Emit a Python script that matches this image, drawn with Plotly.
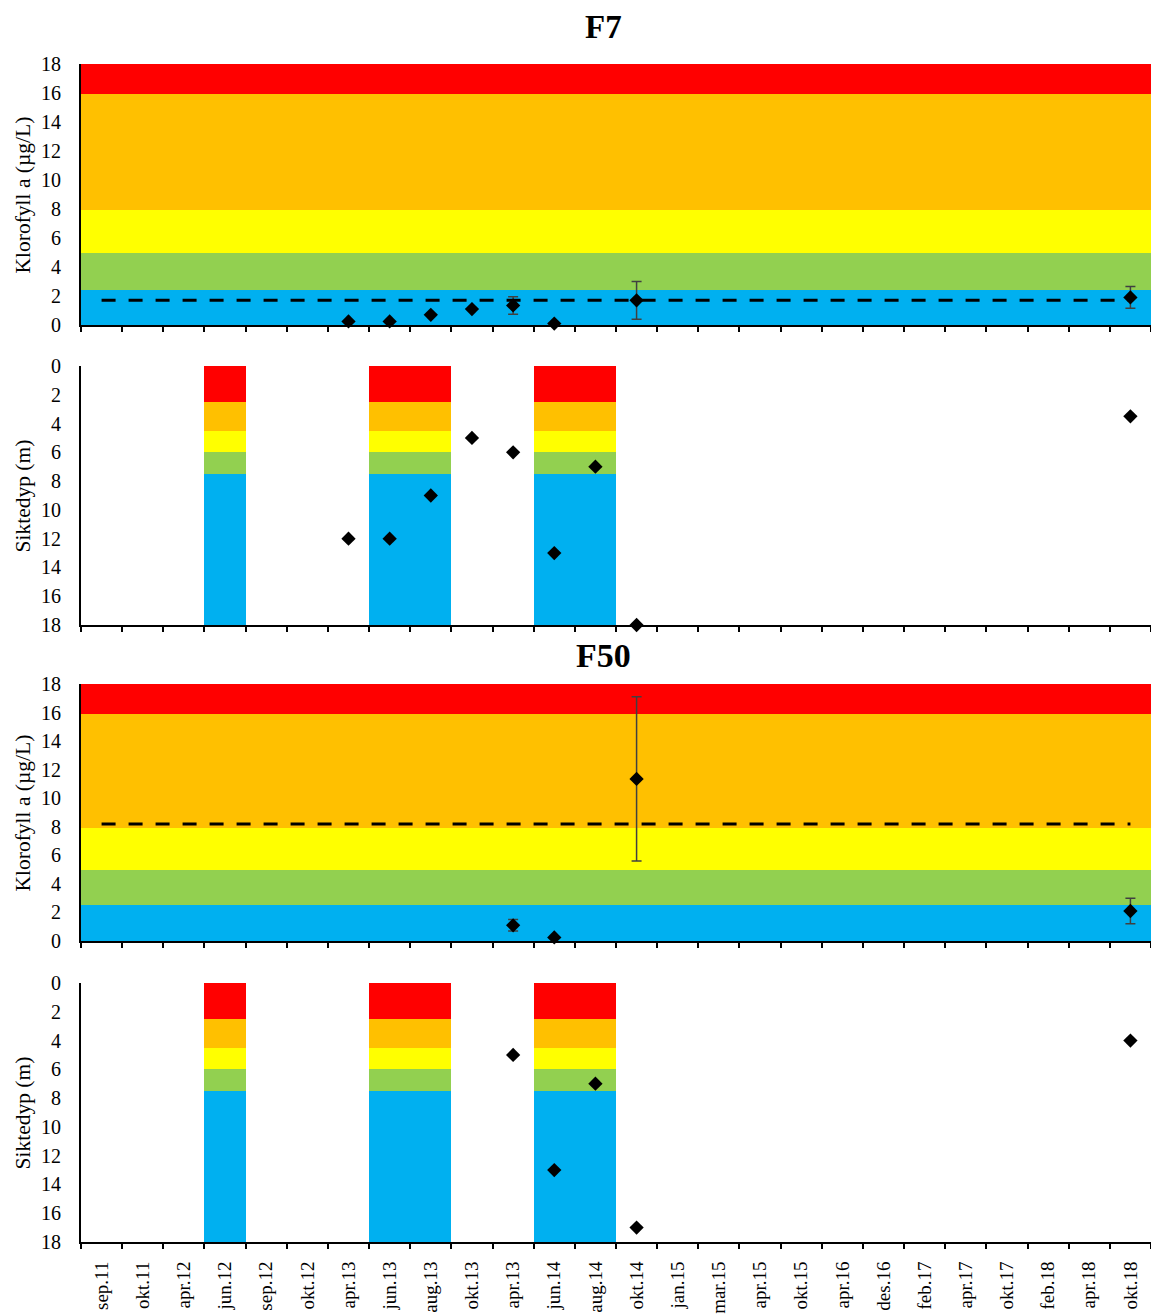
import plotly.graph_objects as go
from plotly.subplots import make_subplots

# ---------------- data ----------------
categories = ["sep.11", "okt.11", "apr.12", "jun.12", "sep.12", "okt.12", "apr.13", "jun.13",
              "aug.13", "okt.13", "apr.13", "jun.14", "aug.14", "okt.14", "jan.15", "mar.15",
              "apr.15", "okt.15", "apr.16", "des.16", "feb.17", "apr.17", "okt.17", "feb.18",
              "apr.18", "okt.18"]
N = len(categories)

def full(d):
    return [d.get(i) for i in range(N)]

# F7 chlorophyll (µg/L), index -> value
f7_chl = full({6: 0.25, 7: 0.25, 8: 0.7, 9: 1.1, 10: 1.35, 11: 0.1, 13: 1.7, 25: 1.9})
f7_chl_err = full({10: 0.6, 13: 1.3, 25: 0.75})
f7_chl_ref = 1.7
f7_sikt = full({6: 12, 7: 12, 8: 9, 9: 5, 10: 6, 11: 13, 12: 7, 13: 18, 25: 3.5})

# F50
f50_chl = full({10: 1.1, 11: 0.25, 13: 11.35, 25: 2.1})
f50_chl_err = full({10: 0.4, 13: 5.75, 25: 0.9})
f50_chl_ref = 8.2
f50_sikt = full({10: 5, 11: 13, 12: 7, 13: 17, 25: 4})

# class limits (upper bounds, cumulative): blue, green, yellow, orange, red
f7_chl_limits = [2.4, 5.0, 7.9, 15.9, 18.0]
f50_chl_limits = [2.55, 4.95, 7.9, 15.9, 18.0]
class_colors = ["#00B0F0", "#92D050", "#FFFF00", "#FFC000", "#FF0000"]
# Secchi depth limits (m), from surface: red, orange, yellow, green, blue
sikt_limits = [2.5, 4.5, 6.0, 7.5, 18.0]
sikt_colors = ["#FF0000", "#FFC000", "#FFFF00", "#92D050", "#00B0F0"]
sikt_bar_idx = [3, 7, 8, 11, 12]

keys = [f"{i}_{c}" for i, c in enumerate(categories)]

FONT = "Liberation Serif"

fig = make_subplots(rows=4, cols=1, shared_xaxes=True)


def add_chl(row, limits, vals, errs, ref):
    prev = 0
    for lim, col in zip(limits, class_colors):
        fig.add_trace(go.Bar(x=keys, y=[lim - prev] * N, marker=dict(color=col, line=dict(width=0)),
                             showlegend=False, hoverinfo="skip"), row=row, col=1)
        prev = lim
    fig.add_trace(go.Scatter(x=keys, y=[ref] * N, mode="lines",
                             line=dict(color="black", width=3, dash="14px,13px"),
                             showlegend=False), row=row, col=1)
    fig.add_trace(go.Scatter(x=keys, y=vals, mode="markers",
                             marker=dict(symbol="diamond", size=11, color="black"),
                             error_y=dict(type="data", array=errs, color="#404040", thickness=1.5, width=5),
                             cliponaxis=False, showlegend=False), row=row, col=1)


def add_sikt(row, vals):
    prev = 0
    for lim, col in zip(sikt_limits, sikt_colors):
        ys = [(lim - prev) if i in sikt_bar_idx else None for i in range(N)]
        fig.add_trace(go.Bar(x=keys, y=ys, marker=dict(color=col, line=dict(width=0)),
                             showlegend=False, hoverinfo="skip"), row=row, col=1)
        prev = lim
    fig.add_trace(go.Scatter(x=keys, y=vals, mode="markers",
                             marker=dict(symbol="diamond", size=11, color="black"),
                             cliponaxis=False, showlegend=False), row=row, col=1)


add_chl(1, f7_chl_limits, f7_chl, f7_chl_err, f7_chl_ref)
add_sikt(2, f7_sikt)
add_chl(3, f50_chl_limits, f50_chl, f50_chl_err, f50_chl_ref)
add_sikt(4, f50_sikt)

H = 1242.0
def dom(top, bot):
    return [(H - bot) / H, (H - top) / H]

domains = [dom(64, 325), dom(366, 625), dom(684, 941), dom(983, 1242)]

fig.update_layout(
    width=1151, height=1314,
    margin=dict(l=81, r=0, t=0, b=72, autoexpand=False),
    barmode="stack", bargap=0,
    plot_bgcolor="white", paper_bgcolor="white",
    font=dict(family=FONT, size=20, color="black"),
    showlegend=False,
)

for r in range(1, 5):
    fig.update_xaxes(row=r, col=1, type="category", categoryorder="array", categoryarray=keys,
                     tickmode="array", tickvals=keys, ticktext=categories,
                     tickson="boundaries", ticks="outside", ticklen=5, tickwidth=1.5, tickcolor="black",
                     showline=True, linecolor="black", linewidth=2, showgrid=False,
                     showticklabels=(r == 4), tickangle=-90, tickfont=dict(size=19, family=FONT),
                     ticklabelstandoff=10, automargin=False,
                     range=[-0.5, N - 0.5])
    rng = [0, 18] if r in (1, 3) else [18, 0]
    fig.update_yaxes(row=r, col=1, domain=domains[r - 1], range=rng, dtick=2, tick0=0,
                     showline=True, linecolor="black", linewidth=2, ticks="", showgrid=False,
                     zeroline=False, tickfont=dict(size=20, family=FONT),
                     ticklabelstandoff=14, automargin=False)

# y-axis titles
for r in range(1, 5):
    title = "Klorofyll a (µg/L)" if r in (1, 3) else "Siktedyp (m)"
    d = domains[r - 1]
    fig.add_annotation(text=title, xref="paper", yref="paper", x=-81 / 1070 + 22 / 1070,
                       y=(d[0] + d[1]) / 2, textangle=-90, showarrow=False,
                       font=dict(size=21.5, family=FONT), xanchor="center", yanchor="middle")

fig.add_annotation(text="<b>F7</b>", xref="paper", yref="paper", x=0.488, y=(H - 27) / H,
                   showarrow=False, font=dict(size=33, family=FONT), yanchor="middle")
fig.add_annotation(text="<b>F50</b>", xref="paper", yref="paper", x=0.488, y=(H - 655) / H,
                   showarrow=False, font=dict(size=34, family=FONT), yanchor="middle")

fig.write_html("out.html", post_script="document.body.style.margin='0';",
               config={"displayModeBar": False})
